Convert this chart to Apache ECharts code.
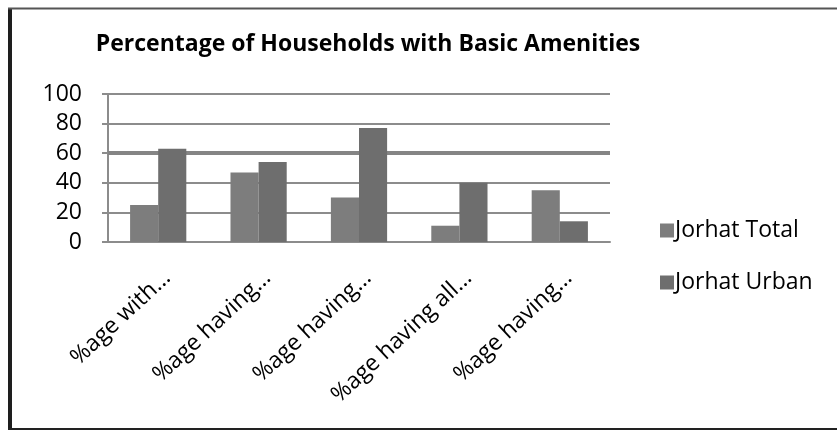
<!DOCTYPE html>
<html>
<head>
<meta charset="utf-8">
<script src="https://cdn.jsdelivr.net/npm/echarts@6/dist/echarts.min.js"></script>
<style>
  html, body { margin: 0; padding: 0; background: #fff; }
  #chart { width: 837px; height: 431px; }
</style>
</head>
<body>
<div id="chart"></div>
<script>
// Household amenity shares for Jorhat district
const categories = ['%age with…', '%age having…', '%age having…', '%age having all…', '%age having…'];
const jorhatTotal = [25, 47, 30, 11, 35];
const jorhatUrban = [63, 54, 77, 40, 14];
const yTicks = { min: 0, max: 100, interval: 20 };

const font = '"Open Sans", Lato, sans-serif';
const chart = echarts.init(document.getElementById('chart'), null, { renderer: 'canvas' });

chart.setOption({
  animation: false,
  backgroundColor: '#ffffff',
  title: {
    text: 'Percentage of Households with Basic Amenities',
    left: 363, textAlign: 'center', top: 28,
    textStyle: { fontFamily: font, fontSize: 23, fontWeight: 'bold', color: '#000' }
  },
  legend: {
    orient: 'vertical', left: 655, top: 214,
    itemWidth: 14, itemHeight: 14, itemGap: 29,
    icon: 'rect',
    textStyle: { fontFamily: font, fontSize: 23, color: '#000', padding: [0, 0, 0, -4] },
    data: ['Jorhat Total', 'Jorhat Urban']
  },
  grid: { left: 108, right: 227, top: 94, bottom: 189, containLabel: false },
  xAxis: {
    type: 'category',
    data: categories,
    axisLine: { lineStyle: { color: '#8c8c8c', width: 2 } },
    axisTick: { length: 6, lineStyle: { color: '#8c8c8c', width: 2 } },
    axisLabel: {
      rotate: 43, margin: 23, verticalAlign: 'top', lineHeight: 26,
      fontFamily: font, fontSize: 23, color: '#000'
    }
  },
  yAxis: {
    type: 'value', min: yTicks.min, max: yTicks.max, interval: yTicks.interval,
    axisLine: { show: true, lineStyle: { color: '#8c8c8c', width: 2 } },
    axisTick: { show: true, length: 6, lineStyle: { color: '#8c8c8c', width: 2 } },
    splitLine: { lineStyle: { color: '#8c8c8c', width: 2 } },
    axisLabel: { margin: 26, fontFamily: font, fontSize: 23, color: '#000' }
  },
  series: [
    {
      name: 'Jorhat Total', type: 'bar', data: jorhatTotal,
      barGap: '0%', barCategoryGap: '44%',
      itemStyle: { color: '#7d7d7d' },
      markLine: {
        silent: true, symbol: 'none', label: { show: false },
        lineStyle: { color: '#858585', width: 4, type: 'solid' },
        data: [{ yAxis: 60 }],
        z: 1
      },
      z: 3
    },
    {
      name: 'Jorhat Urban', type: 'bar', data: jorhatUrban,
      itemStyle: { color: '#6e6e6e' },
      z: 3
    }
  ],
  graphic: [
    { type: 'rect', shape: { x: 8, y: 8, width: 4, height: 422 }, style: { fill: '#1e1e1e' } },
    { type: 'line', shape: { x1: 8, y1: 8.5, x2: 837, y2: 8.5 }, style: { stroke: '#555', lineWidth: 2 } },
    { type: 'line', shape: { x1: 8, y1: 429, x2: 837, y2: 429 }, style: { stroke: '#222', lineWidth: 2 } }
  ]
});
</script>
</body>
</html>
